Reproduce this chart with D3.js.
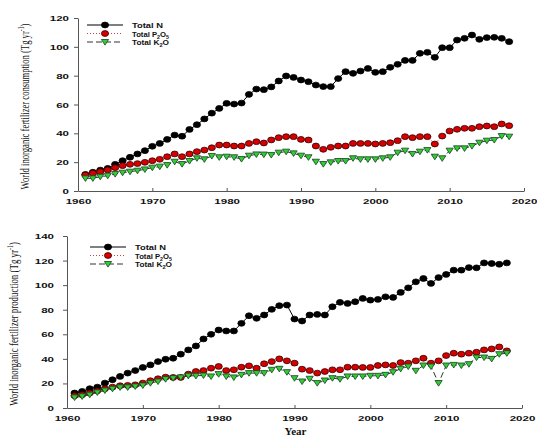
<!DOCTYPE html>
<html>
<head>
    <meta charset="UTF-8">
    <title>World inorganic fertilizer consumption and production</title>
    <script type="text/javascript" src="https://d3js.org/d3.v7.min.js"></script>
    <style>
        body { margin: 0; background: #fff; }
        .tick text { font-family: "Liberation Sans", Arial, sans-serif; font-weight: bold; font-size: 8px; fill: #111; }
        .legend text { font-family: "Liberation Sans", Arial, sans-serif; font-weight: bold; font-size: 8px; fill: #111; }
        .ytitle { font-family: "Liberation Serif", "Times New Roman", serif; font-size: 12px; fill: #111; }
        .xtitle { font-family: "Liberation Serif", "Times New Roman", serif; font-size: 11px; font-weight: bold; fill: #111; }
    </style>
</head>
<body>
<div id="chart"></div>
<script>
    var years = [1961, 1962, 1963, 1964, 1965, 1966, 1967, 1968, 1969, 1970,
        1971, 1972, 1973, 1974, 1975, 1976, 1977, 1978, 1979, 1980,
        1981, 1982, 1983, 1984, 1985, 1986, 1987, 1988, 1989, 1990,
        1991, 1992, 1993, 1994, 1995, 1996, 1997, 1998, 1999, 2000,
        2001, 2002, 2003, 2004, 2005, 2006, 2007, 2008, 2009, 2010,
        2011, 2012, 2013, 2014, 2015, 2016, 2017, 2018];

    // consumption (Tg/yr)
    var consN = [11.5, 13, 14.5, 15.7, 18.5, 21, 23.4, 25.7, 28, 31,
        33, 35.8, 38.8, 38, 42.7, 46, 50, 54, 57.3, 60.8,
        60.3, 61, 67, 70.7, 70.3, 72.2, 76.3, 79.8, 78.8, 77,
        75.8, 73.5, 72.4, 72.4, 78, 82.8, 81.6, 83.2, 85, 82.3,
        82.8, 85.8, 87.9, 90.6, 90.6, 95.5, 96.2, 92.7, 99.4, 99.4,
        104.7, 105.9, 108.2, 105.2, 106.4, 106.6, 105.9, 103.6];
    var consP = [11.1, 12.3, 13.4, 14.6, 16.2, 17.6, 18.5, 19, 19.9, 21,
        22, 23.8, 25.7, 23.8, 25.7, 27.3, 28.4, 30, 31.9, 31.9,
        31.2, 31.2, 33, 34.2, 33.3, 35.4, 37, 37.7, 37.7, 35.8,
        35.4, 31.2, 28.9, 30.3, 31.2, 31.2, 33, 33, 33, 32.6,
        33, 33.5, 34.9, 37.7, 37, 37.7, 37.7, 32.6, 38.1, 41.6,
        42.8, 43.5, 43.5, 44.6, 45.1, 44.6, 46.5, 45.3];
    var consK = [8.8, 8.8, 9.9, 10.6, 11.8, 12.7, 13.4, 14.1, 15, 16.2,
        16.9, 18, 20.3, 18.7, 20.8, 22.7, 22, 24.3, 23.4, 23.8,
        23.4, 22.2, 24.5, 25.4, 25.3, 25, 26.6, 27.3, 26.1, 24.5,
        23.4, 20.3, 18.7, 19.9, 20.8, 20.8, 22.7, 22, 22, 22,
        22.7, 23.4, 26.6, 28, 25.7, 27.3, 28.4, 23.8, 22.7, 28,
        29.6, 29.6, 31.2, 33.5, 34.9, 35.4, 38.1, 37.7];

    // production (Tg/yr)
    var prodN = [12.2, 13.5, 15.7, 17, 20.3, 23, 25.7, 28.4, 30.5, 33,
        35.1, 37.8, 39.7, 40.5, 43.8, 47.3, 50.5, 56.2, 60, 63.5,
        62.7, 62.7, 68.9, 75.1, 73, 75.7, 80.3, 83.3, 83.8, 72.4,
        70.8, 75.7, 76.2, 75.7, 82.4, 86, 85.1, 86.5, 89.2, 87.8,
        88.4, 90.5, 90, 94.1, 97.8, 102.7, 105.4, 101.4, 106.2, 108.7,
        112.2, 112.2, 114.3, 114.1, 118.1, 117.6, 117, 118.1];
    var prodP = [10, 10.8, 12.2, 14, 15.7, 17, 18.1, 18.4, 18.9, 20.3,
        22.2, 23.8, 25.1, 24.9, 24.9, 27.6, 29.7, 30.5, 32.4, 33.8,
        30.5, 31.1, 33.2, 34.3, 32.4, 36, 37.8, 40, 38.4, 36.5,
        31.6, 30.5, 28.4, 29.7, 31.1, 31.1, 33.2, 33.2, 33, 33,
        34.6, 35.1, 34.6, 37, 36.5, 38.4, 40.5, 36.5, 38.4, 42.7,
        44.6, 43.8, 44.6, 45.4, 47.3, 48.1, 49.7, 46.5];
    var prodK = [8.6, 9.5, 10.8, 12.7, 14.3, 15.7, 16.8, 16.8, 17.6, 18.4,
        20.3, 21.6, 23.5, 24.3, 24.9, 26.2, 26.2, 26.5, 25.7, 27.6,
        25.7, 24.9, 27, 28.4, 28.4, 28.4, 31.1, 31.9, 29.2, 24.3,
        21.6, 23.8, 20.3, 22.4, 24.3, 23.5, 25.7, 25.7, 25.7, 26.2,
        26.2, 27, 29.2, 31.9, 33.8, 30.3, 34.6, 33.8, 20.3, 34.6,
        35.1, 34.6, 35.7, 41.1, 41.1, 40, 43.8, 44.6];

    var xTicks = [1960, 1970, 1980, 1990, 2000, 2010, 2020];
    var legendNames = ["Total N", "Total P2O5", "Total K2O"];

    var width = 537, height = 436;
    var svg = d3.select("#chart").append("svg")
        .attr("width", width).attr("height", height);

    var styles = [
        {line: "#000", dash: null, fill: "#000", stroke: "#000", shape: "circle"},
        {line: "#c44", dash: "1,2", fill: "#d60000", stroke: "#300", shape: "circle"},
        {line: "#333", dash: "6,3", fill: "#3c3", stroke: "#142", shape: "tri"}
    ];

    var panels = [
        {series: [consN, consP, consK], yMax: 120, x0: 78, x1: 524, yTop: 18, yBot: 191,
            title: "World inorganic fertilizer consumption (Tg yr", titleX: 29, titleLen: 166,
            yPad: 5, legX: 87, legY: 25},
        {series: [prodN, prodP, prodK], yMax: 140, x0: 67, x1: 522, yTop: 236, yBot: 408,
            title: "World inorganic fertilizer production (Tg yr", titleX: 18, titleLen: 164,
            yPad: 9, legX: 90, legY: 247}
    ];

    panels.forEach(function (p, pi) {
        var x = d3.scaleLinear().domain([1960, 2020]).range([p.x0, p.x1]);
        var y = d3.scaleLinear().domain([0, p.yMax]).range([p.yBot, p.yTop]);
        var g = svg.append("g");

        var xAxis = g.append("g")
            .attr("transform", "translate(0," + p.yBot + ")")
            .call(d3.axisBottom(x).tickValues(xTicks).tickFormat(d3.format("d"))
                .tickSizeInner(-3).tickSizeOuter(0).tickPadding(7));
        var yAxis = g.append("g")
            .attr("transform", "translate(" + p.x0 + ",0)")
            .call(d3.axisLeft(y).ticks(p.yMax / 20).tickSizeInner(4).tickSizeOuter(0).tickPadding(p.yPad));

        [xAxis, yAxis].forEach(function (a) {
            a.select(".domain").attr("stroke", "#555");
            a.selectAll(".tick line").attr("stroke", "#555");
            a.selectAll(".tick text")
                .attr("font-size", null).attr("font-family", null)
                .attr("textLength", function (d) { return String(d).length * 6.4; })
                .attr("lengthAdjust", "spacingAndGlyphs");
        });

        // y title, squeezed along its length with a scale so its box stays true
        var yt = g.append("text").attr("class", "ytitle")
            .attr("text-anchor", "middle");
        yt.append("tspan").text(p.title);
        yt.append("tspan").attr("font-size", "8px").attr("dy", -5).text("-1");
        yt.append("tspan").attr("dy", 5).text(")");
        var natural = yt.node().getComputedTextLength();
        yt.attr("transform", "translate(" + p.titleX + "," + ((p.yTop + p.yBot) / 2 + 2) + ") rotate(-90) scale(" +
            (p.titleLen / natural) + ",1)");

        // series
        p.series.forEach(function (vals, si) {
            var st = styles[si];
            var pts = years.map(function (yr, i) { return [x(yr), y(vals[i])]; });
            g.append("path")
                .attr("d", d3.line()(pts))
                .attr("fill", "none")
                .attr("stroke", st.line)
                .attr("stroke-width", 1)
                .attr("stroke-dasharray", st.dash);
            drawMarkers(g, pts, st);
        });

        // legend
        var leg = g.append("g").attr("class", "legend");
        legendNames.forEach(function (name, i) {
            var st = styles[i];
            var ly = p.legY + i * 8.5;
            leg.append("line")
                .attr("x1", p.legX).attr("x2", p.legX + 36)
                .attr("y1", ly).attr("y2", ly)
                .attr("stroke", st.line).attr("stroke-width", 1)
                .attr("stroke-dasharray", st.dash);
            drawMarkers(leg, [[p.legX + 18, ly]], st);
            var t = leg.append("text")
                .attr("x", p.legX + 45).attr("y", ly + 3);
            if (i === 0) {
                t.text(name);
            } else {
                t.append("tspan").text(i === 1 ? "Total P" : "Total K");
                t.append("tspan").attr("font-size", "5.5px").attr("dy", 2).text("2");
                t.append("tspan").attr("dy", -2).text("O");
                if (i === 1) t.append("tspan").attr("font-size", "5.5px").attr("dy", 2).text("5");
            }
            t.attr("textLength", i === 0 ? 31 : 37).attr("lengthAdjust", "spacingAndGlyphs");
        });

        if (pi === 1) {
            g.append("text").attr("class", "xtitle")
                .attr("x", (p.x0 + p.x1) / 2 + 1).attr("y", 435)
                .attr("text-anchor", "middle")
                .text("Year");
        }
    });

    function drawMarkers(sel, pts, st) {
        if (st.shape === "circle") {
            sel.selectAll(null).data(pts).enter().append("ellipse")
                .attr("cx", function (d) { return d[0]; })
                .attr("cy", function (d) { return d[1]; })
                .attr("rx", 3.6).attr("ry", 2.9)
                .attr("fill", st.fill)
                .attr("stroke", st.stroke).attr("stroke-width", 0.8);
        } else {
            sel.selectAll(null).data(pts).enter().append("path")
                .attr("d", function (d) {
                    return "M" + (d[0] - 3.6) + "," + (d[1] - 2.5) +
                        "L" + (d[0] + 3.6) + "," + (d[1] - 2.5) +
                        "L" + d[0] + "," + (d[1] + 3.1) + "Z";
                })
                .attr("fill", st.fill)
                .attr("stroke", st.stroke).attr("stroke-width", 0.8);
        }
    }
</script>
</body>
</html>
